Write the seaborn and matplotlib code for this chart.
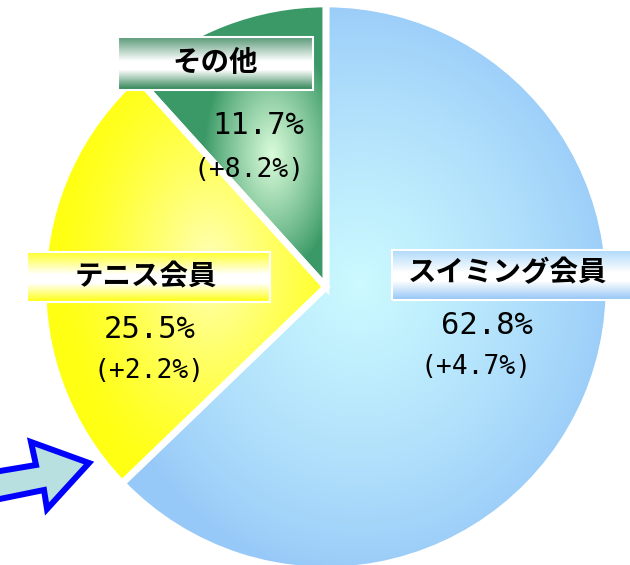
import numpy as np
import matplotlib
matplotlib.use("Agg")
import matplotlib.pyplot as plt
import seaborn as sns
from matplotlib.patches import Rectangle, Polygon
from matplotlib.colors import to_rgb

# ---- data ----
categories = ["スイミング会員", "テニス会員", "その他"]
shares = [62.8, 25.5, 11.7]
changes = [4.7, 2.2, 8.2]
share_labels = ["62.8%", "25.5%", "11.7%"]
change_labels = ["(+4.7%)", "(+2.2%)", "(+8.2%)"]

# ---- style ----
W, H = 630, 565
sns.set_theme(style="white")
plt.rcParams['font.family'] = ['Noto Sans CJK JP', 'DejaVu Sans']

base_colors = ["#96c8f8", "#ffff14", "#3a9966"]
light_colors = ["#ccfaff", "#ffffb8", "#dafcda"]
# gradient centres / radii in pixel coords (y downward)
grad_specs = [((360, 285), 265, 295, 0.8),
              ((210, 265), 150, 230, 1.3),
              ((272, 155), 68, 120, 0.9)]

fig = plt.figure(figsize=(W / 100, H / 100), dpi=100)
ax = fig.add_axes([0, 0, 1, 1])

cx, cy, R = 326, H - 287, 283
wedges, _ = ax.pie(shares, startangle=90, counterclock=False,
                   center=(cx, cy), radius=R, colors=base_colors,
                   wedgeprops=dict(edgecolor="white", linewidth=4.8))

X, Y = np.meshgrid(np.arange(W) + 0.5, np.arange(H) + 0.5)
for w, b, l, (c, rx, ry, p) in zip(wedges, base_colors, light_colors, grad_specs):
    d = np.sqrt(((X - c[0]) / rx) ** 2 + ((Y - c[1]) / ry) ** 2)
    m = np.clip(1 - d, 0, 1) ** p
    img = np.array(to_rgb(b))[None, None, :] * (1 - m)[..., None] + \
        np.array(to_rgb(l))[None, None, :] * m[..., None]
    im = ax.imshow(img, extent=[0, W, 0, H], origin="upper", zorder=1,
                   interpolation="bilinear")
    im.set_clip_path(w)
    w.set_facecolor("none")
    w.set_zorder(2)


def gradient_box(x0, y0, x1, y1, top, bottom, zorder=3):
    n = 64
    t = np.linspace(0, 1, n)
    stops = [0.0, 0.45, 0.62, 1.0]
    cols = [np.array(to_rgb(top)), np.array([1, 1, 1]), np.array([1, 1, 1]),
            np.array(to_rgb(bottom))]
    arr = np.zeros((n, 1, 3))
    for k in range(3):
        arr[:, 0, k] = np.interp(t, stops, [c[k] for c in cols])
    ax.imshow(arr, extent=[x0, x1, H - y1, H - y0], origin="upper",
              zorder=zorder, interpolation="bilinear", aspect="auto")
    ax.add_patch(Rectangle((x0, H - y1), x1 - x0, y1 - y0, fill=False,
                           edgecolor="white", linewidth=1.5, zorder=zorder + 0.1))


# label boxes (pixel coords) and text positions
box_specs = [(392, 250, 640, 300, "#b0dafa", "#94c6f6"),
             (27, 252, 270, 302, "#ffff30", "#ffff10"),
             (118, 37, 313, 90, "#5a9a78", "#2f8454")]
name_pos = [(508, 273), (146, 277), (215, 63)]
share_pos = [(487, 326), (150, 330), (258, 126)]
change_pos = [(476, 367), (149, 371), (249, 170)]

for cat, sl, cl, bs, npos, spos, cpos in zip(categories, share_labels, change_labels,
                                            box_specs, name_pos, share_pos, change_pos):
    gradient_box(*bs)
    ax.text(npos[0], H - npos[1], cat, ha="center", va="center", fontsize=20.5,
            fontweight="bold", color="black", zorder=5,
            family=["Noto Sans CJK JP", "DejaVu Sans"])
    ax.text(spos[0], H - spos[1], sl, ha="center", va="center", fontsize=22,
            color="black", zorder=5, family=["DejaVu Sans Mono"])
    ax.text(cpos[0], H - cpos[1], cl, ha="center", va="center", fontsize=19,
            color="black", zorder=5, family=["DejaVu Sans Mono"])

# pointing arrow (decoration)
arrow_px = [(-10, 472.7), (36, 465), (31, 442), (89, 463), (47, 509), (44, 490), (-10, 501)]
ax.add_patch(Polygon([(x, H - y) for x, y in arrow_px], closed=True,
                     facecolor="#b8e0e0", edgecolor="#0000ff", linewidth=4.3,
                     joinstyle="miter", zorder=6))

ax.set_xlim(0, W)
ax.set_ylim(0, H)
ax.set_aspect("equal")
ax.axis("off")
fig.savefig("out.png", dpi=100, facecolor="white")
